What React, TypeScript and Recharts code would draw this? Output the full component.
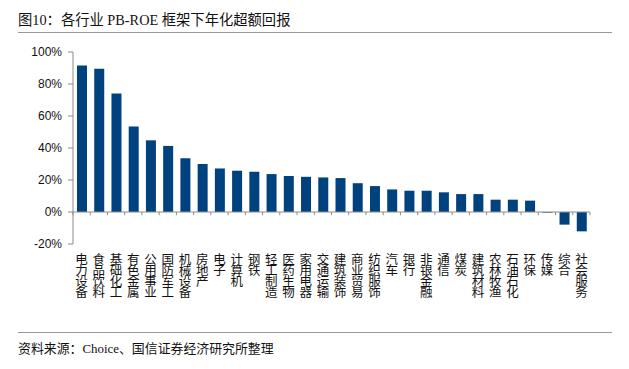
import React from "react";
import { BarChart, Bar, XAxis, YAxis, ReferenceLine } from "recharts";

const categories: string[] = [
  "电力设备", "食品饮料", "基础化工", "有色金属", "公用事业", "国防军工", "机械设备", "房地产",
  "电子", "计算机", "钢铁", "轻工制造", "医药生物", "家用电器", "交通运输", "建筑装饰",
  "商业贸易", "纺织服饰", "汽车", "银行", "非银金融", "通信", "煤炭", "建筑材料",
  "农林牧渔", "石油石化", "环保", "传媒", "综合", "社会服务",
];

const excessReturn: number[] = [
  91.5, 89.5, 74, 53.5, 44.8, 41.3, 33.6, 30, 27.2, 25.8, 25.2, 23.7, 22.5, 22, 21.6, 21.2,
  18, 16.2, 14.1, 13.3, 13.3, 12.3, 11.2, 11.2, 7.7, 7.7, 7.1, -0.4, -7.9, -12.1,
];

const yTicks: number[] = [-20, 0, 20, 40, 60, 80, 100];

const title = "图10：各行业 PB-ROE 框架下年化超额回报";
const source = "资料来源：Choice、国信证券经济研究所整理";

const data = categories.map((name, i) => ({ idx: i, name, value: excessReturn[i] }));
const xTicks = categories.map((_, i) => i);
const boundaries = Array.from({ length: categories.length + 1 }, (_, i) => i - 0.5);

const AXIS_GRAY = "#8c8c8c";

const XTick = (props: any) => {
  const { x, y, payload } = props;
  const label = categories[payload.value] || "";
  return (
    <text
      x={x}
      y={y + 20}
      textAnchor="middle"
      fontSize={12.5}
      fill="#111"
      fontFamily="'Noto Sans CJK SC', sans-serif"
    >
      {label.split("").map((c, i) => (
        <tspan key={i} x={x} dy={i === 0 ? 0 : 11}>
          {c}
        </tspan>
      ))}
    </text>
  );
};

export default function App() {
  return (
    <div style={{ position: "absolute", left: 0, top: 0, width: 629, height: 369, background: "#fff" }}>
      <div
        style={{
          position: "absolute",
          left: 18,
          top: 11,
          fontSize: 14.3,
          lineHeight: "18px",
          color: "#111",
          fontFamily: "'Liberation Serif', 'Noto Sans CJK SC', serif",
          whiteSpace: "nowrap",
        }}
      >
        {title}
      </div>
      <div style={{ position: "absolute", left: 18, top: 32, width: 594, height: 0, borderTop: "1.5px solid #999" }} />
      <div style={{ position: "absolute", left: 18, top: 332, width: 594, height: 0, borderTop: "1.5px solid #999" }} />
      <div
        style={{
          position: "absolute",
          left: 18,
          top: 341,
          fontSize: 12.9,
          lineHeight: "17px",
          color: "#111",
          fontFamily: "'Liberation Serif', 'Noto Sans CJK SC', serif",
          whiteSpace: "nowrap",
        }}
      >
        {source}
      </div>
      <div style={{ position: "absolute", left: 0, top: 0 }}>
        <BarChart width={629} height={369} data={data} margin={{ top: 52, right: 39, left: 0, bottom: 0 }}>
          <XAxis
            xAxisId="x"
            dataKey="idx"
            type="number"
            domain={[-0.5, categories.length - 0.5]}
            ticks={xTicks}
            interval={0}
            height={125}
            axisLine={false}
            tickLine={false}
            tickSize={0}
            tickMargin={0}
            tick={<XTick />}
          />
          <YAxis
            yAxisId="y"
            width={73}
            domain={[-20, 100]}
            ticks={yTicks}
            interval={0}
            tickFormatter={(v: number) => `${v}%`}
            axisLine={{ stroke: AXIS_GRAY, strokeWidth: 1 }}
            tickLine={{ stroke: AXIS_GRAY, strokeWidth: 1 }}
            tickSize={5}
            tickMargin={6}
            tick={{ fontSize: 12, fill: "#111", fontFamily: "'Liberation Sans', Arial, sans-serif" }}
          />
          <Bar
            xAxisId="x"
            yAxisId="y"
            dataKey="value"
            fill="#00427e"
            barSize={10}
            isAnimationActive={false}
          />
          <ReferenceLine xAxisId="x" yAxisId="y" y={0} stroke={AXIS_GRAY} strokeWidth={1} />
          {boundaries.map((b) => (
            <ReferenceLine
              key={b}
              xAxisId="x"
              yAxisId="y"
              segment={[
                { x: b, y: 0 },
                { x: b, y: -2 },
              ]}
              stroke={AXIS_GRAY}
              strokeWidth={1}
            />
          ))}
        </BarChart>
      </div>
    </div>
  );
}
